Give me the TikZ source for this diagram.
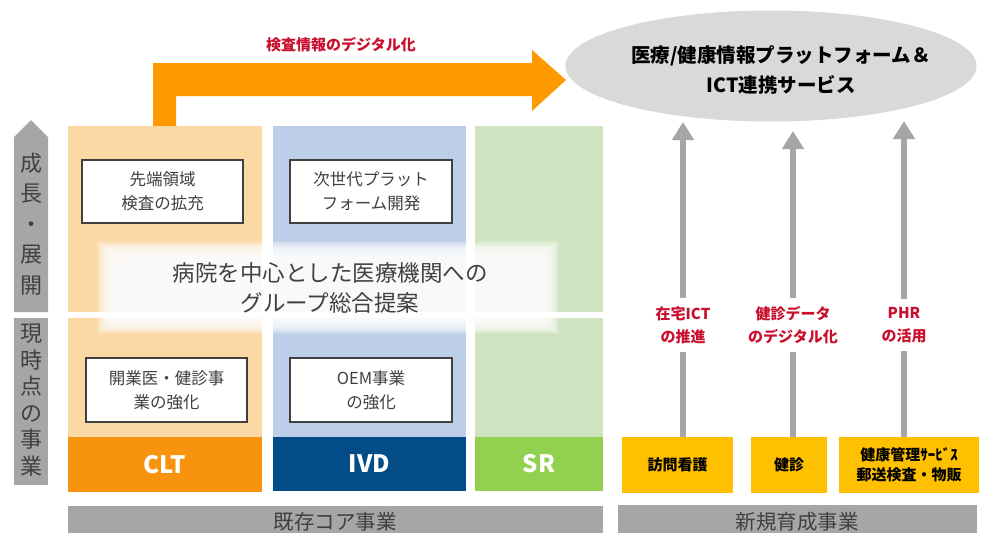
\documentclass[tikz,border=0pt]{standalone}
\usepackage{fontspec}
\setmainfont{Noto Sans CJK JP}
\usetikzlibrary{arrows.meta,shapes.geometric}
\definecolor{cltL}{HTML}{FCD8A4}
\definecolor{cltD}{HTML}{F7930F}
\definecolor{ivdL}{HTML}{BDCEE9}
\definecolor{ivdD}{HTML}{034C87}
\definecolor{srL}{HTML}{CFE3C1}
\definecolor{srD}{HTML}{92D050}
\definecolor{grayA}{HTML}{A6A6A6}
\definecolor{darkT}{HTML}{404040}
\definecolor{ellG}{HTML}{D9D9D9}
\definecolor{redT}{HTML}{C8102E}
\definecolor{yel}{HTML}{FFC000}
\definecolor{orA}{HTML}{FF9900}
\begin{document}
\begin{tikzpicture}[x=1pt,y=-1pt,
  bar/.style={inner sep=0pt, text=white, font=\fontsize{24}{28}\selectfont\bfseries},
  wbox/.style={draw=darkT, line width=1.2pt, fill=white, align=center, inner sep=0pt,
    text=darkT, font=\fontsize{16.5}{24}\selectfont},
  vtext/.style={align=center, text=darkT, inner sep=0pt},
  redlbl/.style={align=center, text=redT, inner sep=8pt, font=\fontsize{15}{23}\selectfont\bfseries},
  ybox/.style={fill=yel, align=center, inner sep=0pt, minimum height=56pt, text=black,
    font=\fontsize{15}{20}\selectfont\bfseries},
  garrow/.style={draw=grayA, line width=6.5pt, -{Triangle[width=21pt,length=18pt]}},
  gline/.style={draw=grayA, line width=6.5pt},
  gbartext/.style={text=darkT, inner sep=0pt, font=\fontsize{20.5}{24}\selectfont}]
\useasboundingbox (0,0) rectangle (983,533);
\clip (0,0) rectangle (983,533);
\fill[white] (0,0) rectangle (983,533);

% left gray arrows
\fill[grayA] (14,137) -- (31,120) -- (48,137) -- (48,312) -- (14,312) -- cycle;
\fill[grayA] (14,318) rectangle (48,485);
\node[vtext, font=\fontsize{22}{30.5}\selectfont] (grow) at (31,224) {成\\長\\・\\展\\開};
\node[vtext, font=\fontsize{22}{26.5}\selectfont] (now) at (31,400) {現\\時\\点\\の\\事\\業};

% columns
\fill[cltL] (68,126) rectangle (262,312);
\fill[cltL] (68,318) rectangle (262,437);
\fill[ivdL] (273,126) rectangle (466,312);
\fill[ivdL] (273,318) rectangle (466,437);
\fill[srL] (475,126) rectangle (603,312);
\fill[srL] (475,318) rectangle (603,437);
\node[bar, fill=cltD, minimum width=194pt, minimum height=55pt] (clt) at (165,464.5) {CLT};
\node[bar, fill=ivdD, minimum width=193pt, minimum height=54pt] (ivd) at (369.5,464) {IVD};
\node[bar, fill=srD, minimum width=128pt, minimum height=54pt] (sr) at (539,464) {SR};

% bottom gray bars
\fill[grayA] (68,506) rectangle (603,545);
\fill[grayA] (618,505) rectangle (977,545);
\node[gbartext] (core) at (335,522) {既存コア事業};
\node[gbartext] (newb) at (797,522) {新規育成事業};

% white boxes
\node[wbox, minimum width=161pt, minimum height=63pt] (b1) at (162.5,191.5) {先端領域\\検査の拡充};
\node[wbox, minimum width=162pt, minimum height=63pt] (b2) at (371,191.5) {次世代プラット\\フォーム開発};
\node[wbox, minimum width=161pt, minimum height=64pt] (b3) at (166.5,390) {開業医・健診事\\業の強化};
\node[wbox, minimum width=162pt, minimum height=64pt] (b4) at (371,390) {OEM事業\\の強化};

% blurred white overlay
\foreach \i in {0,...,21} {
  \fill[white, opacity=0.15] (97+1.0*\i,241+0.9*\i) rectangle (559-1.0*\i,334-0.9*\i);
}
\node[align=center, text=darkT, inner sep=0pt, font=\fontsize{22.5}{30}\selectfont] (prop) at (330,288)
  {病院を中心とした医療機関への\\グループ総合提案};

% orange L arrow
\fill[orA] (153,126) -- (153,63) -- (532,63) -- (532,50) -- (566,80) -- (532,111) -- (532,96) -- (176,96) -- (176,126) -- cycle;
\node[text=redT, inner sep=0pt, font=\fontsize{15}{18}\selectfont\bfseries] (digi) at (341,45) {検査情報のデジタル化};

% platform ellipse
\node[ellipse, fill=ellG, draw=white!70!gray, line width=1pt, minimum width=410pt, minimum height=110pt, inner sep=0pt] (plat) at (771,66) {};
\node[align=center, text=black, inner sep=0pt, font=\fontsize{19.5}{30}\selectfont\bfseries] (platt) at (781,70)
  {医療/健康情報プラットフォーム＆\\ICT連携サービス};

% right side
\node[ybox, minimum width=111pt] (y1) at (677.5,465) {訪問看護};
\node[ybox, minimum width=76pt] (y2) at (789,465) {健診};
\node[ybox, minimum width=140pt] (y3) at (909,465) {健康管理ｻｰﾋﾞｽ\\郵送検査・物販};

\node[redlbl] (l1) at (683,325) {在宅ICT\\の推進};
\node[redlbl] (l2) at (793,325) {健診データ\\のデジタル化};
\node[redlbl] (l3) at (904,325) {PHR\\の活用};

\coordinate (t1) at (683,122);
\coordinate (t2) at (793,131);
\coordinate (t3) at (904,121);

\draw[garrow] (l1.north) -- (t1);
\draw[garrow] (l2.north) -- (t2);
\draw[garrow] (l3.north) -- (t3);
\draw[gline] (l1.south) -- (l1.south |- y1.north);
\draw[gline] (l2.south) -- (l2.south |- y2.north);
\draw[gline] (l3.south) -- (l3.south |- y3.north);
\end{tikzpicture}
\end{document}
